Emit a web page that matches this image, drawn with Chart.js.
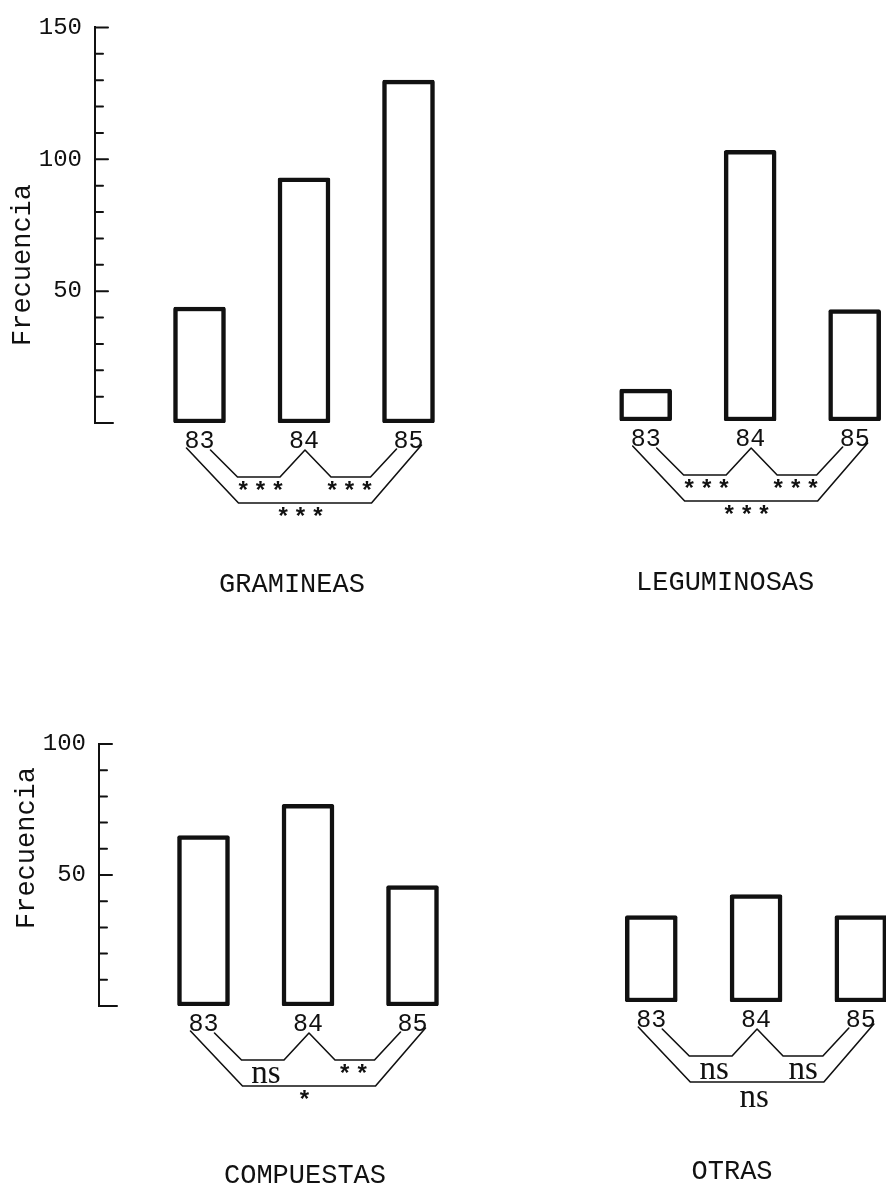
<!DOCTYPE html>
<html>
<head>
<meta charset="utf-8">
<title>Frecuencia por grupo</title>
<script src="https://cdn.jsdelivr.net/npm/chart.js@4.4.1/dist/chart.umd.min.js"></script>
<style>
    html, body { margin: 0; padding: 0; background: #fff; }
    body { width: 886px; height: 1188px; position: relative; overflow: hidden; }
    canvas { position: absolute; }
</style>
</head>
<body>
<canvas id="gramineas"></canvas>
<canvas id="leguminosas"></canvas>
<canvas id="compuestas"></canvas>
<canvas id="otras"></canvas>
<script>
// ---- data ----
const years = [83, 84, 85];
const yearLabels = ['83', '84', '85'];
const gramineas = [44, 93, 130];
const leguminosas = [12, 102, 42];
const compuestas = [65, 77, 46];
const otras = [33, 41, 33];
// significance: [83-84, 84-85, 83-85]
const sigGramineas = ['***', '***', '***'];
const sigLeguminosas = ['***', '***', '***'];
const sigCompuestas = ['ns', '**', '*'];
const sigOtras = ['ns', 'ns', 'ns'];
const yTicksTop = [50, 100, 150];
const yTicksBottom = [50, 100];
const titles = ['GRAMINEAS', 'LEGUMINOSAS', 'COMPUESTAS', 'OTRAS'];
const axisTitle = 'Frecuencia';

// ---- style ----
const INK = '#111';
const MONO = '"Liberation Mono", "Courier New", monospace';
const SERIF = '"Liberation Serif", "Times New Roman", serif';

// bracket shapes, as [bar index, dx, dy from bar centre / zero line]
const OUTER = [[0, -13, 25], [0, 39, 80], [2, -37, 80], [2, 13, 22]];
const INNER = [[0, 11, 27], [0, 38, 54], [1, -24, 54], [1, 1, 27], [1, 27, 54], [2, -38, 54], [2, -12, 26]];
const SIG_DX = [-42, 47, -2];
const SIG_DY_STAR = [62, 62, 88];
const SIG_DY_TEXT = [69, 69, 97];

const drawCentered = (ctx, text, cx, cy, font, spacing) => {
    ctx.font = font;
    ctx.letterSpacing = spacing || '0px';
    ctx.textAlign = 'center';
    ctx.textBaseline = 'alphabetic';
    const m = ctx.measureText(text);
    ctx.fillText(text, cx, cy + (m.actualBoundingBoxAscent - m.actualBoundingBoxDescent) / 2);
};

const decorPlugin = {
    id: 'decor',
    afterDraw(chart, args, opts) {
        const ctx = chart.ctx;
        const xs = chart.scales.x;
        const ys = chart.scales.y;
        const area = chart.chartArea;
        const c = years.map(v => xs.getPixelForValue(v));
        const base = ys.getPixelForValue(0);

        ctx.save();
        ctx.strokeStyle = INK;
        ctx.fillStyle = INK;
        ctx.lineCap = 'round';
        ctx.lineJoin = 'round';

        // inward tick marks + axis title
        if (opts.axis) {
            ctx.lineWidth = 2;
            ys.ticks.forEach(t => {
                const py = ys.getPixelForValue(t.value);
                const len = t.value === 0 ? 18 : (opts.yLabels.includes(t.value) ? 13 : 8);
                ctx.beginPath();
                ctx.moveTo(area.left, py);
                ctx.lineTo(area.left + len, py);
                ctx.stroke();
            });
            ctx.save();
            ctx.translate(area.left - 75, area.bottom - 158);
            ctx.rotate(-Math.PI / 2);
            drawCentered(ctx, axisTitle, 0, 0, '27px ' + MONO);
            ctx.restore();
        }

        // comparison brackets
        ctx.lineWidth = 1.6;
        [OUTER, INNER].forEach(path => {
            ctx.beginPath();
            path.forEach(([i, dx, dy], k) => {
                const px = c[i] + dx;
                const py = base + dy;
                if (k === 0) ctx.moveTo(px, py); else ctx.lineTo(px, py);
            });
            ctx.stroke();
        });

        // significance labels
        opts.sig.forEach((s, k) => {
            const stars = /^\*+$/.test(s);
            const cx = c[1] + SIG_DX[k];
            const cy = base + (stars ? SIG_DY_STAR[k] : SIG_DY_TEXT[k]);
            if (stars) drawCentered(ctx, s, cx, cy, 'bold 24px ' + MONO, '3px');
            else drawCentered(ctx, s, cx, cy, '33px ' + SERIF);
        });

        // panel title
        drawCentered(ctx, opts.title, c[1] + opts.titleDx, base + opts.titleDy, '27px ' + MONO);
        ctx.restore();
    }
};

const makePanel = (id, values, sig, title, layout) => {
    const canvas = document.getElementById(id);
    canvas.width = layout.w;
    canvas.height = layout.h;
    canvas.style.left = layout.x + 'px';
    canvas.style.top = layout.y + 'px';

    return new Chart(canvas, {
        type: 'bar',
        data: {
            datasets: [{
                data: years.map((x, i) => ({ x: x, y: values[i] })),
                backgroundColor: '#fff',
                borderColor: INK,
                borderWidth: 4.5,
                borderSkipped: false,
                borderRadius: 2,
                barThickness: 52
            }]
        },
        options: {
            responsive: false,
            devicePixelRatio: 1,
            animation: false,
            layout: {
                padding: { left: layout.padLeft, right: layout.padRight, top: layout.top, bottom: layout.h - layout.bottom - 40 }
            },
            plugins: {
                legend: { display: false },
                tooltip: { enabled: false },
                decor: {
                    axis: layout.axis,
                    yLabels: layout.yLabels,
                    sig: sig,
                    title: title,
                    titleDx: layout.titleDx,
                    titleDy: layout.titleDy
                }
            },
            scales: {
                x: {
                    type: 'linear',
                    offset: false,
                    min: 82,
                    max: layout.xMax,
                    afterBuildTicks: s => { s.ticks = years.map(v => ({ value: v })); },
                    afterFit: s => { s.height = 40; },
                    grid: { display: false, drawTicks: false, offset: false },
                    border: { display: false },
                    ticks: {
                        autoSkip: false,
                        maxRotation: 0,
                        padding: 3,
                        color: INK,
                        font: { family: MONO, size: 25 },
                        callback: v => yearLabels[years.indexOf(v)]
                    }
                },
                y: {
                    display: layout.axis,
                    min: 0,
                    max: layout.yMax,
                    afterFit: s => { s.width = layout.axisWidth; },
                    grid: { display: false, drawTicks: false },
                    border: { display: true, color: INK, width: 2 },
                    ticks: {
                        stepSize: 10,
                        autoSkip: false,
                        padding: 13,
                        color: INK,
                        font: { family: MONO, size: 24 },
                        callback: v => layout.yLabels.includes(v) ? String(v) : ''
                    }
                }
            }
        },
        plugins: [decorPlugin]
    });
};

makePanel('gramineas', gramineas, sigGramineas, titles[0], {
    x: 0, y: 0, w: 480, h: 600, top: 25, bottom: 423, padLeft: 0, padRight: 19.25, axisWidth: 95,
    axis: true, xMax: 85.5, yMax: 150, yLabels: yTicksTop, titleDx: -12, titleDy: 160
});
makePanel('leguminosas', leguminosas, sigLeguminosas, titles[1], {
    x: 443, y: 0, w: 443, h: 600, top: 23, bottom: 421, padLeft: 98.15, padRight: 0, axisWidth: 0,
    axis: false, xMax: 85.3, yMax: 150, yLabels: yTicksTop, titleDx: -25, titleDy: 160
});
makePanel('compuestas', compuestas, sigCompuestas, titles[2], {
    x: 0, y: 600, w: 480, h: 588, top: 144, bottom: 406, padLeft: 0, padRight: 15.25, axisWidth: 99,
    axis: true, xMax: 85.5, yMax: 100, yLabels: yTicksBottom, titleDx: -3, titleDy: 168
});
makePanel('otras', otras, sigOtras, titles[3], {
    x: 443, y: 600, w: 443, h: 588, top: 140, bottom: 402, padLeft: 103.5, padRight: 0, axisWidth: 0,
    axis: false, xMax: 85.24, yMax: 100, yLabels: yTicksBottom, titleDx: -24, titleDy: 168
});
</script>
</body>
</html>
